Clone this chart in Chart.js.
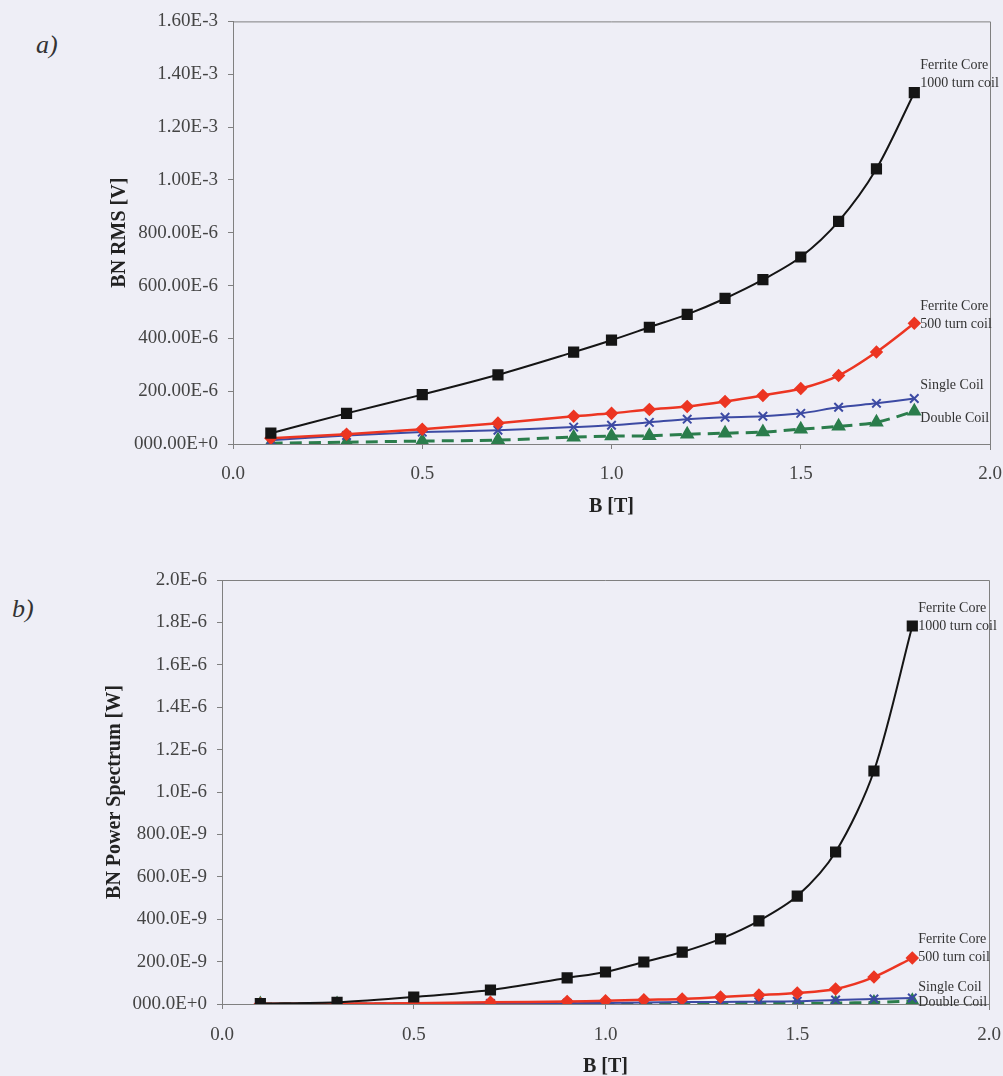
<!DOCTYPE html>
<html>
<head>
<meta charset="utf-8">
<script src="https://cdn.jsdelivr.net/npm/chart.js@4.4.1/dist/chart.umd.min.js"></script>
<style>
    body { margin: 0; background: #eeeef6; overflow: hidden; }
    .grafica { position: absolute; left: 0; width: 1003px; }
    .letra { position: absolute; font-family: 'Liberation Serif', serif; font-style: italic; font-size: 26px; color: #333; }
</style>
</head>
<body>
<div class="letra" style="left:36px; top:30px;">a)</div>
<div class="letra" style="left:12px; top:594px;">b)</div>
<div class="grafica" style="top:0; height:530px;"><canvas id="rmsChart"></canvas></div>
<div class="grafica" style="top:530px; height:550px;"><canvas id="potenciaChart"></canvas></div>
<script>
// Campo magnético B [T]
const campoB = [0.1, 0.3, 0.5, 0.7, 0.9, 1.0, 1.1, 1.2, 1.3, 1.4, 1.5, 1.6, 1.7, 1.8];

// BN RMS [V]
const rmsFerrita1000 = [41e-6, 116e-6, 187e-6, 262e-6, 348e-6, 393e-6, 442e-6, 491e-6, 551e-6, 622e-6, 708e-6, 843e-6, 1042e-6, 1330e-6];
const rmsFerrita500 = [22e-6, 37e-6, 56e-6, 79e-6, 105e-6, 116e-6, 131e-6, 142e-6, 161e-6, 184e-6, 210e-6, 259e-6, 348e-6, 457e-6];
const rmsSimple = [14e-6, 32e-6, 45e-6, 52e-6, 64e-6, 71e-6, 82e-6, 94e-6, 101e-6, 105e-6, 116e-6, 139e-6, 154e-6, 172e-6];
const rmsDoble = [3e-6, 7e-6, 11e-6, 15e-6, 26e-6, 30e-6, 31e-6, 37e-6, 41e-6, 45e-6, 56e-6, 67e-6, 82e-6, 124e-6];

// BN Power Spectrum [W]
const potFerrita1000 = [2e-9, 8e-9, 33e-9, 66e-9, 123e-9, 151e-9, 198e-9, 245e-9, 307e-9, 392e-9, 509e-9, 717e-9, 1099e-9, 1783e-9];
const potFerrita500 = [1e-9, 2e-9, 4e-9, 8e-9, 12e-9, 15e-9, 20e-9, 24e-9, 33e-9, 42e-9, 52e-9, 71e-9, 127e-9, 217e-9];
const potSimple = [0.2e-9, 1e-9, 2e-9, 3e-9, 4e-9, 5e-9, 7e-9, 9e-9, 10e-9, 11e-9, 13e-9, 19e-9, 24e-9, 28e-9];
const potDoble = [0, 0.1e-9, 0.2e-9, 0.3e-9, 0.7e-9, 0.9e-9, 1e-9, 1.4e-9, 1.7e-9, 2e-9, 3e-9, 4.5e-9, 7e-9, 15e-9];

// Etiquetas de los ejes
const ticksB = ['0.0', '0.5', '1.0', '1.5', '2.0'];
const ticksRms = ['000.00E+0', '200.00E-6', '400.00E-6', '600.00E-6', '800.00E-6', '1.00E-3', '1.20E-3', '1.40E-3', '1.60E-3'];
const ticksPot = ['000.0E+0', '200.0E-9', '400.0E-9', '600.0E-9', '800.0E-9', '1.0E-6', '1.2E-6', '1.4E-6', '1.6E-6', '1.8E-6', '2.0E-6'];

const nombresSerie = [
    ['Ferrite Core', '1000 turn coil'],
    ['Ferrite Core', '500 turn coil'],
    ['Single Coil'],
    ['Double Coil']
];

const FUENTE = "'Liberation Serif', 'Times New Roman', serif";
const GRIS = '#808080';

function puntos(valores) {
    return campoB.map((b, i) => ({ x: b, y: valores[i] }));
}

// Estilo de cada serie (color, marcador, posición vertical de la etiqueta)
function crearSeries(datos, desplaz) {
    return [
        { data: puntos(datos[0]), borderColor: '#151515', backgroundColor: '#151515', pointStyle: 'rect', pointRadius: 6.5, borderWidth: 2, tension: 0.3, etiqueta: nombresSerie[0], dy: desplaz[0] },
        { data: puntos(datos[1]), borderColor: '#ec3522', backgroundColor: '#ec3522', pointStyle: 'rectRot', pointRadius: 5, borderWidth: 2.5, tension: 0.3, etiqueta: nombresSerie[1], dy: desplaz[1] },
        { data: puntos(datos[2]), borderColor: '#3c4aa3', backgroundColor: '#3c4aa3', pointStyle: 'crossRot', pointRadius: 6, pointBorderWidth: 2, borderWidth: 2, tension: 0.3, etiqueta: nombresSerie[2], dy: desplaz[2] },
        { data: puntos(datos[3]), borderColor: '#2b7d4c', backgroundColor: '#2b7d4c', pointStyle: 'triangle', pointRadius: 5.5, borderWidth: 3, borderDash: [12, 7], tension: 0.3, etiqueta: nombresSerie[3], dy: desplaz[3] }
    ];
}

// Plugin: marco del área y etiquetas al final de cada serie
const marcoYEtiquetas = {
    id: 'marcoYEtiquetas',
    beforeDatasetsDraw(chart) {
        const { ctx, chartArea: a } = chart;
        ctx.save();
        ctx.strokeStyle = GRIS;
        ctx.lineWidth = 1;
        ctx.beginPath();
        ctx.moveTo(a.left, a.top + 0.5);
        ctx.lineTo(a.right + 0.5, a.top + 0.5);
        ctx.lineTo(a.right + 0.5, a.bottom + 6);
        ctx.stroke();
        ctx.restore();
    },
    afterDatasetsDraw(chart) {
        const { ctx } = chart;
        ctx.save();
        ctx.font = '14px ' + FUENTE;
        ctx.fillStyle = '#333';
        ctx.textBaseline = 'middle';
        chart.data.datasets.forEach((ds, i) => {
            const meta = chart.getDatasetMeta(i);
            const ultimo = meta.data[meta.data.length - 1];
            ds.etiqueta.forEach((linea, j) => {
                ctx.fillText(linea, ultimo.x + 6, ultimo.y + ds.dy + j * 18);
            });
        });
        ctx.restore();
    }
};

function crearGrafica(id, datos, desplaz, ticksY, maxY, pasoY, tituloY, cfg) {
    const ctx = document.getElementById(id).getContext('2d');
    return new Chart(ctx, {
        type: 'line',
        data: { datasets: crearSeries(datos, desplaz) },
        options: {
            responsive: true,
            maintainAspectRatio: false,
            animation: false,
            layout: { padding: { top: cfg.arriba, right: cfg.derecha, left: 0, bottom: 0 } },
            plugins: { legend: { display: false }, tooltip: { enabled: false } },
            scales: {
                x: {
                    type: 'linear', min: 0, max: 2,
                    afterBuildTicks: eje => { eje.ticks = ticksB.map(t => ({ value: parseFloat(t) })); },
                    afterFit: eje => { eje.height = cfg.altoX; eje.paddingLeft = 0; eje.paddingRight = 0; },
                    border: { color: GRIS },
                    grid: { drawOnChartArea: false, tickLength: 5, color: GRIS },
                    ticks: { color: '#444', padding: cfg.padTickX, font: { family: FUENTE, size: 19 }, callback: (v, i) => ticksB[i] },
                    title: { display: true, text: 'B [T]', color: '#222', font: { family: FUENTE, size: 20, weight: 'bold' }, padding: { top: 0, bottom: cfg.padTitX } }
                },
                y: {
                    type: 'linear', min: 0, max: maxY,
                    afterBuildTicks: eje => { eje.ticks = ticksY.map((t, i) => ({ value: i * pasoY })); },
                    afterFit: eje => { eje.width = cfg.anchoY; },
                    border: { color: GRIS },
                    grid: { drawOnChartArea: false, tickLength: 5, color: GRIS },
                    ticks: { color: '#444', padding: 10, font: { family: FUENTE, size: 19 }, callback: (v, i) => ticksY[i] },
                    title: { display: true, text: tituloY, color: '#222', font: { family: FUENTE, size: 20, weight: 'bold' }, padding: { top: cfg.padTitY, bottom: 0 } }
                }
            }
        },
        plugins: [marcoYEtiquetas]
    });
}

crearGrafica('rmsChart',
    [rmsFerrita1000, rmsFerrita500, rmsSimple, rmsDoble],
    [-27, -17, -13, 7],
    ticksRms, 1.6e-3, 2e-4, 'BN RMS [V]',
    { arriba: 17, derecha: 13, altoX: 86, anchoY: 233, padTickX: 14, padTitX: 11, padTitY: 108 });

crearGrafica('potenciaChart',
    [potFerrita1000, potFerrita500, potSimple, potDoble],
    [-18, -19, -11, 2],
    ticksPot, 2e-6, 2e-7, 'BN Power Spectrum [W]',
    { arriba: 50, derecha: 14, altoX: 76, anchoY: 222, padTickX: 15, padTitX: 1, padTitY: 103 });
</script>
</body>
</html>
